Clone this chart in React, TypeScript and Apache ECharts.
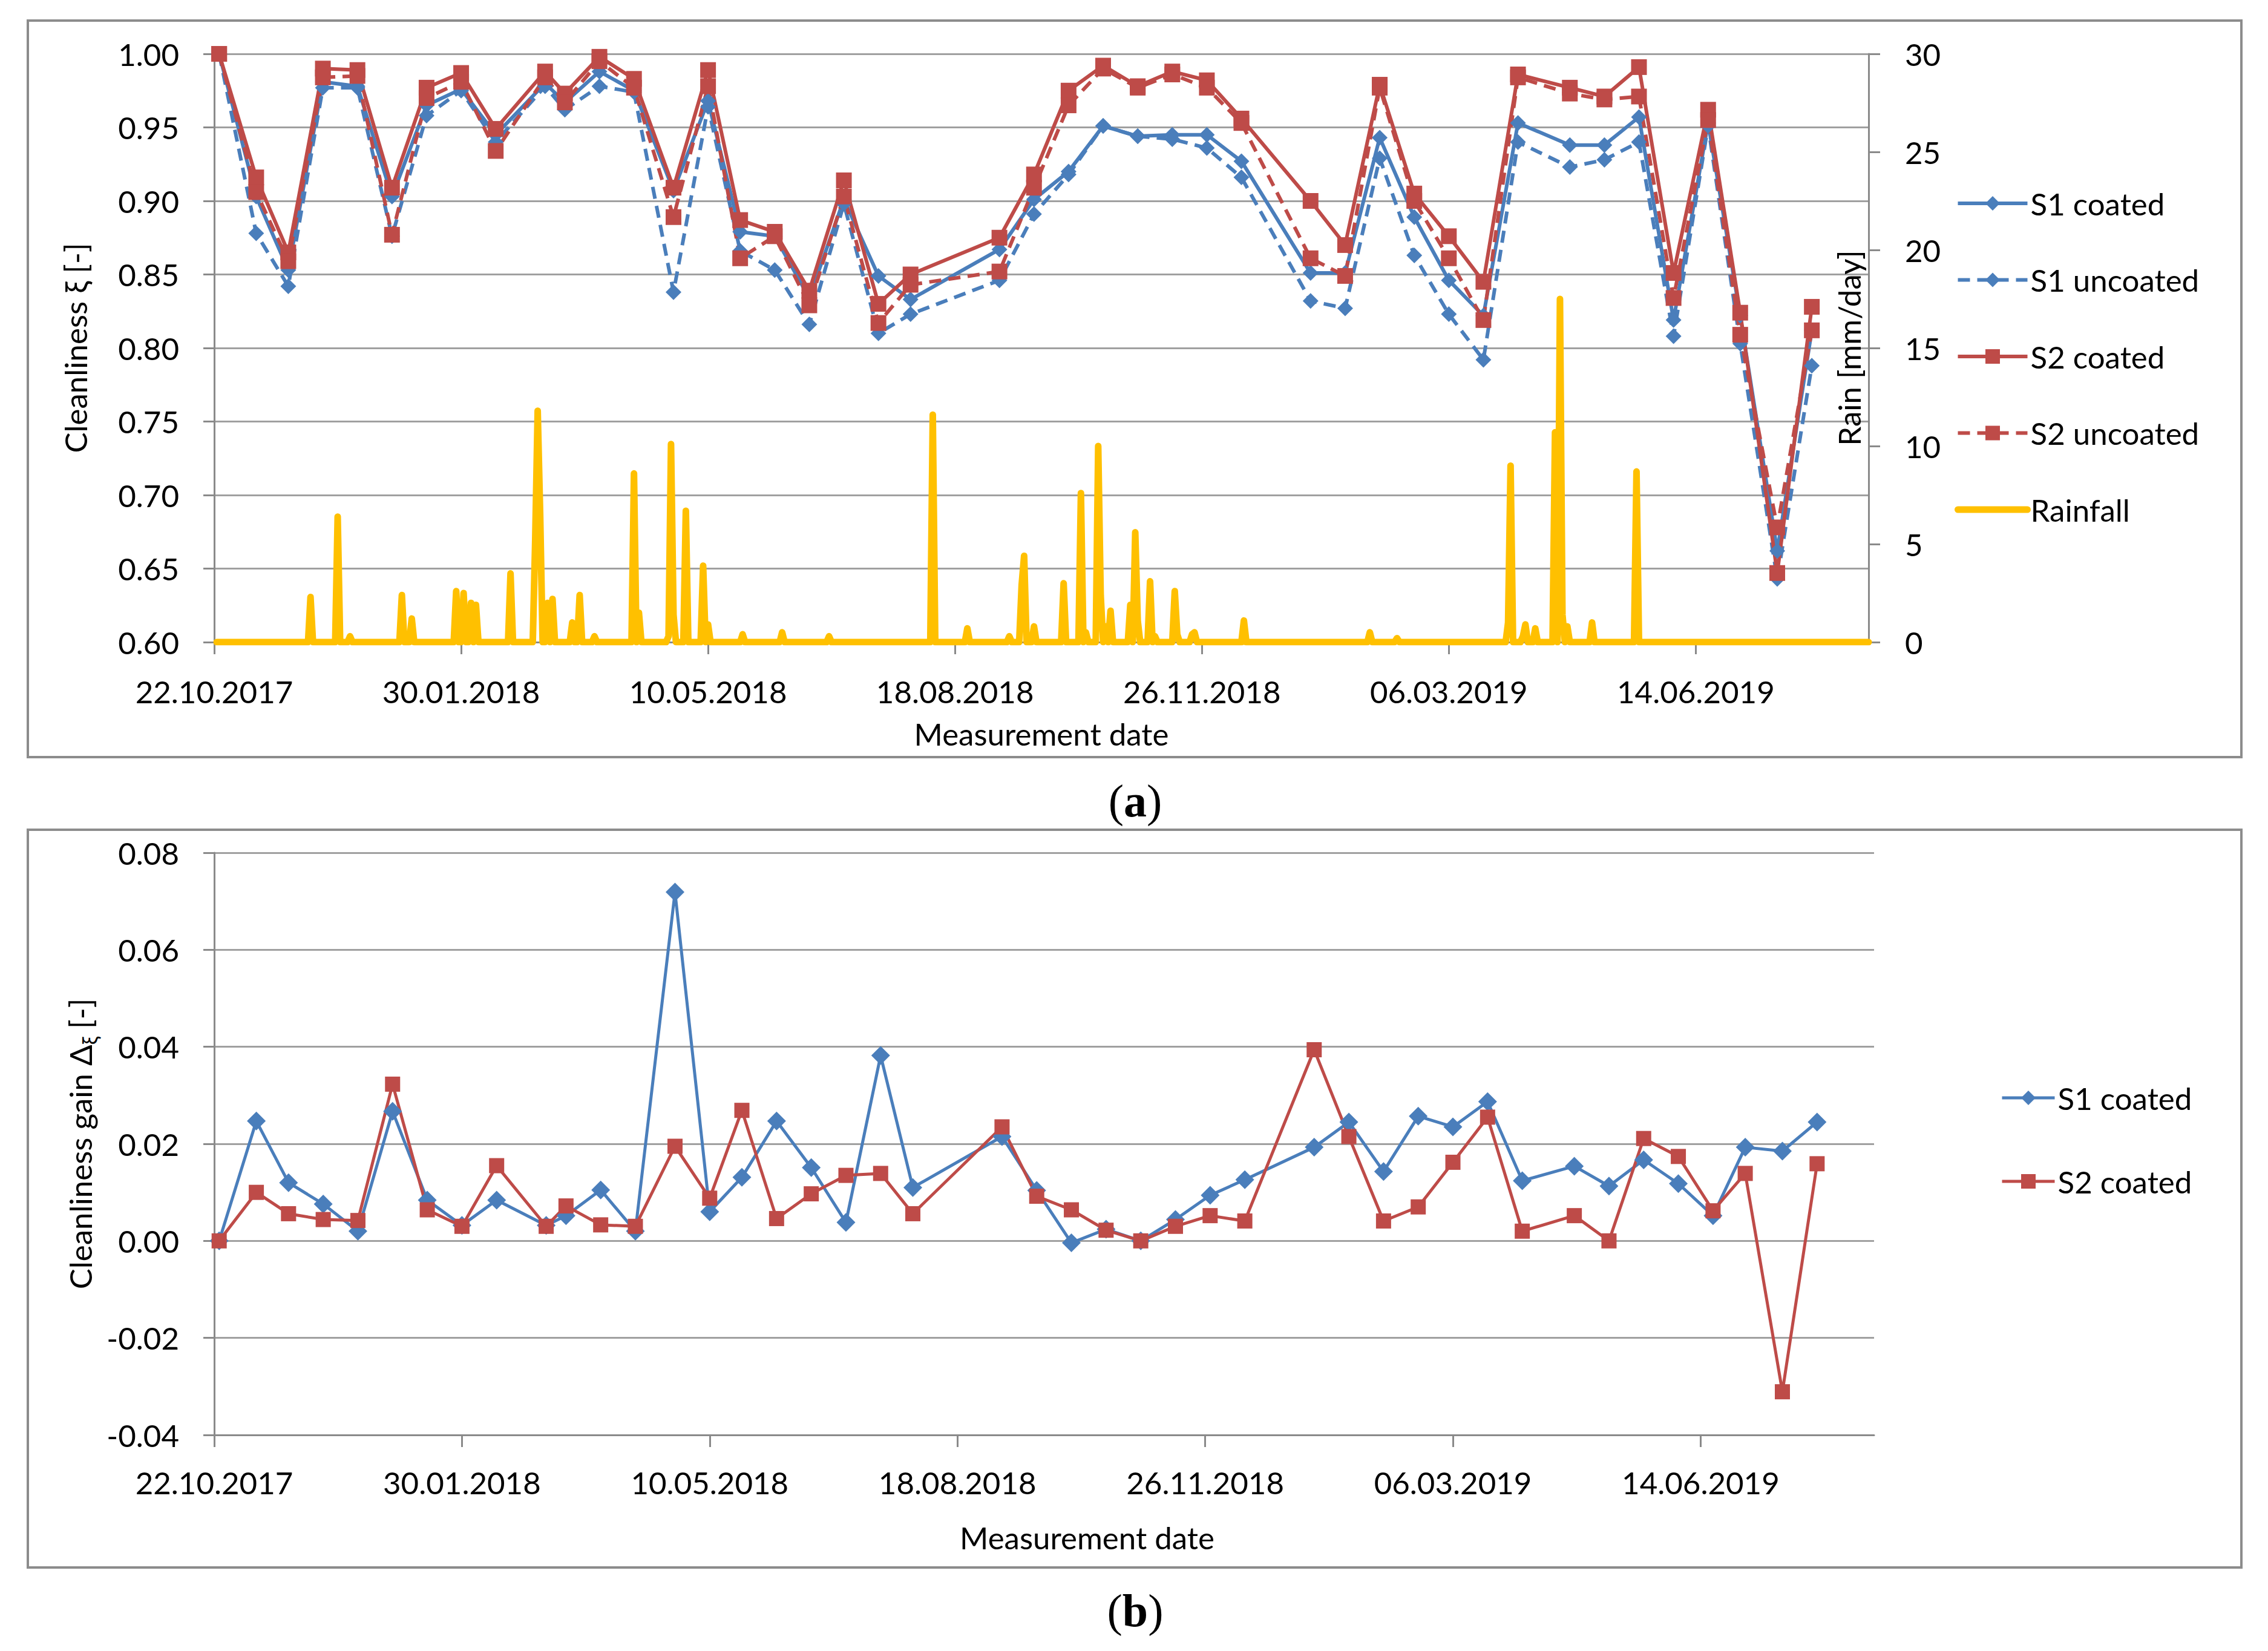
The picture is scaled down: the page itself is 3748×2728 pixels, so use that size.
import React, { useEffect, useRef } from 'react';
import * as echarts from 'echarts';

// ---------- data (days counted from 22.10.2017) ----------
const X_TICK_DAYS = [0, 100, 200, 300, 400, 500, 600];
const X_TICK_LABELS = ['22.10.2017', '30.01.2018', '10.05.2018', '18.08.2018', '26.11.2018', '06.03.2019', '14.06.2019'];
const AXIS_END_DAY = 670;

const DAYS = [2, 17, 30, 44, 58, 72, 86, 100, 114, 134, 142, 156, 170, 186, 200, 213, 227, 241, 255, 269, 282, 318, 332, 346, 360, 374, 388, 402, 416, 444, 458, 472, 486, 500, 514, 528, 549, 563, 577, 591, 605, 618, 633, 647];

const S1_COATED = [1.000, 0.903, 0.853, 0.981, 0.978, 0.903, 0.965, 0.976, 0.945, 0.980, 0.967, 0.988, 0.975, 0.907, 0.968, 0.879, 0.876, 0.834, 0.901, 0.849, 0.833, 0.867, 0.901, 0.920, 0.951, 0.944, 0.945, 0.945, 0.927, 0.851, 0.851, 0.943, 0.889, 0.846, 0.822, 0.953, 0.938, 0.938, 0.957, 0.819, 0.953, 0.822, 0.662, 0.812];
const S1_UNCOATED = [1.000, 0.878, 0.842, 0.977, 0.977, 0.876, 0.958, 0.975, 0.940, 0.978, 0.962, 0.978, 0.974, 0.838, 0.964, 0.866, 0.853, 0.816, 0.898, 0.810, 0.823, 0.846, 0.891, 0.918, 0.951, 0.944, 0.942, 0.936, 0.916, 0.832, 0.827, 0.929, 0.863, 0.823, 0.792, 0.940, 0.923, 0.928, 0.940, 0.808, 0.951, 0.803, 0.643, 0.788];
const S2_COATED = [1.000, 0.916, 0.865, 0.990, 0.989, 0.909, 0.977, 0.987, 0.949, 0.988, 0.973, 0.998, 0.983, 0.909, 0.989, 0.887, 0.879, 0.839, 0.914, 0.830, 0.850, 0.875, 0.918, 0.975, 0.992, 0.978, 0.988, 0.982, 0.956, 0.900, 0.870, 0.979, 0.905, 0.876, 0.845, 0.986, 0.977, 0.971, 0.991, 0.851, 0.962, 0.824, 0.647, 0.828];
const S2_UNCOATED = [1.000, 0.906, 0.859, 0.984, 0.985, 0.877, 0.970, 0.981, 0.934, 0.984, 0.967, 0.995, 0.977, 0.889, 0.978, 0.861, 0.876, 0.829, 0.903, 0.817, 0.843, 0.852, 0.909, 0.965, 0.990, 0.977, 0.986, 0.977, 0.953, 0.861, 0.849, 0.977, 0.900, 0.861, 0.819, 0.984, 0.973, 0.969, 0.971, 0.834, 0.955, 0.809, 0.678, 0.812];

const GAIN_S1 = [0.000, 0.0247, 0.012, 0.0076, 0.002, 0.0267, 0.0084, 0.0032, 0.0084, 0.0032, 0.0052, 0.0105, 0.002, 0.0719, 0.006, 0.0131, 0.0247, 0.0151, 0.0038, 0.0382, 0.011, 0.0215, 0.0104, -0.0004, 0.0024, 0.000, 0.0044, 0.0094, 0.0126, 0.0193, 0.0245, 0.0143, 0.0257, 0.0235, 0.0287, 0.0124, 0.0154, 0.0113, 0.0167, 0.0118, 0.0052, 0.0193, 0.0185, 0.0245];
const GAIN_S2 = [0.000, 0.010, 0.0056, 0.0044, 0.0042, 0.0323, 0.0064, 0.003, 0.0155, 0.003, 0.0072, 0.0033, 0.003, 0.0195, 0.0088, 0.0269, 0.0046, 0.0097, 0.0135, 0.0139, 0.0056, 0.0235, 0.0092, 0.0064, 0.0022, 0.000, 0.003, 0.0052, 0.0041, 0.0394, 0.0215, 0.0041, 0.007, 0.0162, 0.0255, 0.002, 0.0052, 0.000, 0.0211, 0.0174, 0.0062, 0.0139, -0.0311, 0.0159];

// rainy days (all other days of the record are dry, 0 mm)
const RAIN_FIRST_DAY = 1;
const RAIN_DAYS = [39, 50, 55, 76, 80, 98, 101, 104, 106, 120, 130, 131, 132, 135, 137, 145, 148, 154, 170, 172, 184, 185, 186, 191, 198, 200, 214, 230, 249, 291, 305, 322, 327, 328, 332, 344, 351, 353, 358, 359, 361, 363, 371, 373, 374, 379, 381, 389, 390, 396, 397, 417, 468, 479, 524, 525, 530, 531, 535, 543, 545, 546, 548, 558, 576];
const RAIN_MM = [2.3, 6.4, 0.3, 2.4, 1.2, 2.6, 2.5, 2.0, 1.9, 3.5, 5.2, 11.8, 6.5, 2.0, 2.2, 1.0, 2.4, 0.3, 8.6, 1.5, 0.3, 10.1, 1.4, 6.7, 3.9, 0.9, 0.4, 0.5, 0.3, 11.6, 0.7, 0.3, 2.9, 4.4, 0.8, 3.0, 7.6, 0.5, 10.0, 2.4, 0.8, 1.6, 1.9, 5.6, 1.1, 3.1, 0.3, 2.6, 0.4, 0.4, 0.5, 1.1, 0.5, 0.2, 1.0, 9.0, 0.3, 0.9, 0.7, 10.7, 17.5, 1.4, 0.8, 1.0, 8.7];

// ---------- styling ----------
const FONT = 'Lato';
const FS = 51;
const BLUE = '#4A7EBB';
const RED = '#BE4B48';
const YELLOW = '#FFC000';
const AXIS_GRAY = '#8a8a8a';
const GRID_GRAY = '#a0a0a0';
const DASH = [20, 12];

function zip(xs: number[], ys: number[]) {
  return xs.map((x, i) => [x, ys[i]]);
}

function buildRain() {
  const map: Record<number, number> = {};
  RAIN_DAYS.forEach((d, i) => { map[d] = RAIN_MM[i]; });
  const out: number[][] = [];
  for (let d = RAIN_FIRST_DAY; d <= AXIS_END_DAY; d++) out.push([d, map[d] ?? 0]);
  return out;
}

function xAxisCfg(gridIndex: number, nameGap: number, labelMargin: number, namePadLeft: number) {
  return {
    type: 'value',
    gridIndex,
    min: 0,
    max: AXIS_END_DAY,
    interval: 100,
    axisLine: { show: true, onZero: false, lineStyle: { color: AXIS_GRAY, width: 3 } },
    axisTick: { show: true, customValues: X_TICK_DAYS, length: 20, lineStyle: { color: AXIS_GRAY, width: 3 } },
    axisLabel: {
      customValues: X_TICK_DAYS,
      formatter: (v: number) => X_TICK_LABELS[Math.round(v / 100)] ?? '',
      margin: labelMargin,
      fontSize: FS,
      lineHeight: 60,
      fontFamily: FONT,
      color: '#000',
    },
    splitLine: { show: false },
    name: 'Measurement date',
    nameLocation: 'middle',
    nameGap,
    nameMoveOverlap: false,
    nameTextStyle: {
      fontSize: FS, fontFamily: FONT, color: '#000', align: 'center', verticalAlign: 'middle',
      padding: [0, 0, 0, namePadLeft],
    },
  };
}

function lineSeries(name: string, data: number[][], color: string, dashed: boolean, symbol: string, size: number, width: number, xi: number, yi: number) {
  return {
    type: 'line',
    name,
    data,
    xAxisIndex: xi,
    yAxisIndex: yi,
    symbol,
    symbolSize: size,
    showSymbol: true,
    showAllSymbol: true,
    silent: true,
    z: 3,
    lineStyle: { color, width, type: dashed ? DASH : 'solid' },
    itemStyle: { color },
    emphasis: { disabled: true },
  };
}

export default function App() {
  const ref = useRef<HTMLDivElement>(null);

  useEffect(() => {
    if (!ref.current) return;
    const chart = echarts.init(ref.current, undefined, { renderer: 'svg' });

    const option: any = {
      animation: false,
      backgroundColor: '#ffffff',
      textStyle: { fontFamily: FONT },
      grid: [
        { left: 354, top: 89, width: 2734, height: 972, containLabel: false, outerBoundsMode: 'none' },
        { left: 354, top: 1409, width: 2743, height: 962, containLabel: false, outerBoundsMode: 'none' },
      ],
      xAxis: [
        xAxisCfg(0, 151, 51, 0),
        xAxisCfg(1, 169, 48, 142),
      ],
      yAxis: [
        {
          type: 'value', gridIndex: 0, position: 'left',
          min: 0.6, max: 1.0, interval: 0.05,
          axisLine: { show: true, lineStyle: { color: AXIS_GRAY, width: 3 } },
          axisTick: { show: true, length: 18, lineStyle: { color: AXIS_GRAY, width: 3 } },
          axisLabel: { formatter: (v: number) => v.toFixed(2), margin: 58, fontSize: FS, fontFamily: FONT, color: '#000' },
          splitLine: { show: true, lineStyle: { color: GRID_GRAY, width: 3 } },
          name: 'Cleanliness ξ [-]',
          nameLocation: 'middle',
          nameGap: 230,
          nameMoveOverlap: false,
          nameTextStyle: { fontSize: FS, fontFamily: FONT, color: '#000', align: 'center', verticalAlign: 'middle' },
        },
        {
          type: 'value', gridIndex: 0, position: 'right',
          min: 0, max: 30, interval: 5,
          axisLine: { show: true, lineStyle: { color: AXIS_GRAY, width: 3 } },
          axisTick: { show: true, length: 19, lineStyle: { color: AXIS_GRAY, width: 3 } },
          axisLabel: { formatter: (v: number) => String(Math.round(v)), margin: 60, fontSize: FS, fontFamily: FONT, color: '#000' },
          splitLine: { show: false },
          name: 'Rain [mm/day]',
          nameLocation: 'middle',
          nameGap: -33,
          nameMoveOverlap: false,
          nameTextStyle: { fontSize: FS, fontFamily: FONT, color: '#000', align: 'center', verticalAlign: 'middle' },
        },
        {
          type: 'value', gridIndex: 1, position: 'left',
          min: -0.04, max: 0.08, interval: 0.02,
          axisLine: { show: true, onZero: false, lineStyle: { color: AXIS_GRAY, width: 3 } },
          axisTick: { show: true, length: 18, lineStyle: { color: AXIS_GRAY, width: 3 } },
          axisLabel: {
            formatter: (v: number) => (Math.abs(v) < 1e-9 ? 0 : v).toFixed(2),
            margin: 58, fontSize: FS, fontFamily: FONT, color: '#000',
          },
          splitLine: { show: true, lineStyle: { color: GRID_GRAY, width: 3 } },
          name: 'Cleanliness gain Δ{sub|ξ} [-]',
          nameLocation: 'middle',
          nameGap: 222,
          nameMoveOverlap: false,
          nameTextStyle: {
            fontSize: FS, fontFamily: FONT, color: '#000', align: 'center', verticalAlign: 'middle',
            rich: { sub: { fontSize: 34, fontFamily: FONT, color: '#000', padding: [30, 0, 0, 0] } },
          },
        },
      ],
      legend: [
        {
          orient: 'vertical',
          left: 3230,
          top: 306,
          padding: 0,
          itemWidth: 115,
          itemHeight: 30,
          itemGap: 66.5,
          selectedMode: false,
          lineStyle: { width: 'inherit' },
          textStyle: { fontSize: FS, fontFamily: FONT, color: '#000', lineHeight: 60 },
          data: ['S1 coated', 'S1 uncoated', 'S2 coated', 'S2 uncoated', { name: 'Rainfall', itemStyle: { opacity: 0 } }],
        },
        {
          orient: 'vertical',
          left: 3306,
          top: 1784,
          padding: 0,
          itemWidth: 87,
          itemHeight: 30,
          itemGap: 78,
          selectedMode: false,
          lineStyle: { width: 5 },
          textStyle: { fontSize: FS, fontFamily: FONT, color: '#000', lineHeight: 60 },
          data: ['S1 coated', 'S2 coated'],
        },
      ],
      series: [
        {
          type: 'line',
          name: 'Rainfall',
          data: buildRain(),
          xAxisIndex: 0,
          yAxisIndex: 1,
          symbol: 'none',
          silent: true,
          z: 2,
          lineStyle: { color: YELLOW, width: 11, join: 'round', cap: 'round' },
          itemStyle: { color: YELLOW },
          emphasis: { disabled: true },
        },
        lineSeries('S1 coated', zip(DAYS, S1_COATED), BLUE, false, 'diamond', 26, 6, 0, 0),
        lineSeries('S1 uncoated', zip(DAYS, S1_UNCOATED), BLUE, true, 'diamond', 26, 6, 0, 0),
        lineSeries('S2 coated', zip(DAYS, S2_COATED), RED, false, 'rect', 26, 6, 0, 0),
        lineSeries('S2 uncoated', zip(DAYS, S2_UNCOATED), RED, true, 'rect', 26, 6, 0, 0),
        lineSeries('S1 coated', zip(DAYS, GAIN_S1), BLUE, false, 'diamond', 31, 5, 1, 2),
        lineSeries('S2 coated', zip(DAYS, GAIN_S2), RED, false, 'rect', 25, 5, 1, 2),
      ],
      graphic: [
        {
          type: 'rect', z: -10, silent: true,
          shape: { x: 46, y: 34, width: 3658, height: 1217 },
          style: { fill: 'transparent', stroke: '#8c8c8c', lineWidth: 4 },
        },
        {
          type: 'rect', z: -10, silent: true,
          shape: { x: 46, y: 1371, width: 3658, height: 1219 },
          style: { fill: 'transparent', stroke: '#8c8c8c', lineWidth: 4 },
        },
        {
          type: 'text', x: 1876, y: 1323, silent: true,
          style: {
            text: '{n|(}{b|a}{n|)}', align: 'center', verticalAlign: 'middle',
            fontSize: 76, fontFamily: 'Liberation Serif', fill: '#000',
            rich: {
              n: { fontSize: 76, fontFamily: 'Liberation Serif', color: '#000' },
              b: { fontSize: 76, fontFamily: 'Liberation Serif', fontWeight: 'bold', color: '#000' },
            },
          },
        },
        {
          type: 'text', x: 1876, y: 2661, silent: true,
          style: {
            text: '{n|(}{b|b}{n|)}', align: 'center', verticalAlign: 'middle',
            fontSize: 76, fontFamily: 'Liberation Serif', fill: '#000',
            rich: {
              n: { fontSize: 76, fontFamily: 'Liberation Serif', color: '#000' },
              b: { fontSize: 76, fontFamily: 'Liberation Serif', fontWeight: 'bold', color: '#000' },
            },
          },
        },
      ],
    };

    chart.setOption(option);
    return () => chart.dispose();
  }, []);

  return (
    <div
      ref={ref}
      style={{ position: 'fixed', left: 0, top: 0, width: 3748, height: 2728, background: '#ffffff' }}
    />
  );
}
